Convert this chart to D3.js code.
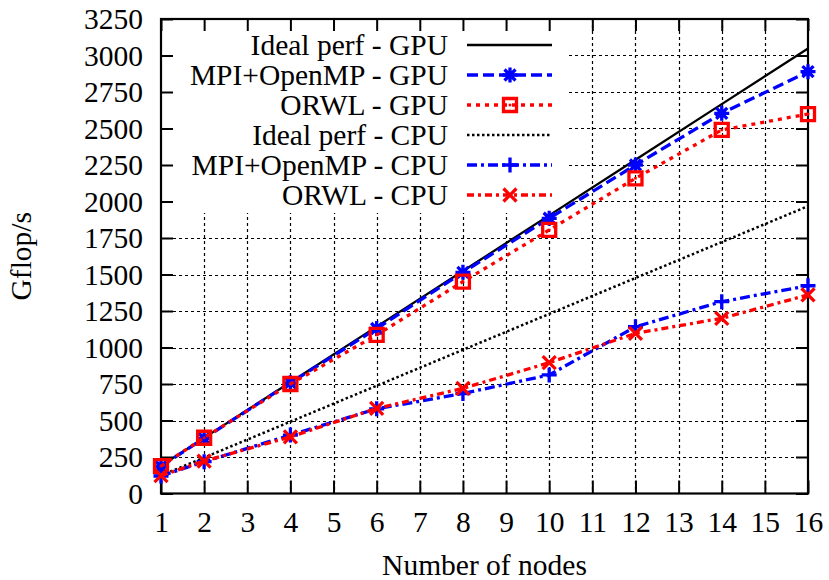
<!DOCTYPE html>
<html>
<head>
<meta charset="utf-8">
<script src="https://cdn.jsdelivr.net/npm/d3@7"></script>
<style>
  body { margin: 0; background: #fff; }
  svg text { font-family: "Liberation Serif", "DejaVu Serif", serif; font-size: 29.5px; fill: #000; }
</style>
</head>
<body>
<div id="chart"></div>
<script>
var width = 829;
var height = 580;
var fontFamily = "'Liberation Serif', 'DejaVu Serif', serif";

// data
var nodes = [1, 2, 4, 6, 8, 10, 12, 14, 16];
var idealGpu = [190, 381, 762, 1143, 1524, 1905, 2286, 2667, 3048];
var mpiGpu = [185, 378, 758, 1130, 1515, 1885, 2250, 2604, 2889];
var orwlGpu = [188, 382, 750, 1086, 1451, 1805, 2159, 2490, 2599];
var idealCpu = [123, 246, 492, 738, 984, 1230, 1476, 1722, 1968];
var mpiCpu = [120, 218, 400, 580, 685, 812, 1142, 1314, 1423];
var orwlCpu = [122, 222, 388, 583, 720, 896, 1097, 1200, 1360];

var xTicks = [1, 2, 3, 4, 5, 6, 7, 8, 9, 10, 11, 12, 13, 14, 15, 16];
var yTicks = [0, 250, 500, 750, 1000, 1250, 1500, 1750, 2000, 2250, 2500, 2750, 3000, 3250];

var seriesNames = ["Ideal perf - GPU", "MPI+OpenMP - GPU", "ORWL - GPU",
                   "Ideal perf - CPU", "MPI+OpenMP - CPU", "ORWL - CPU"];

var series = [
  { name: seriesNames[0], values: idealGpu, color: "#000", width: 2.3, dash: null, marker: null },
  { name: seriesNames[1], values: mpiGpu, color: "#0000ff", width: 3.3, dash: "11,5", marker: "star" },
  { name: seriesNames[2], values: orwlGpu, color: "#ff0000", width: 3.3, dash: "4,5", marker: "box" },
  { name: seriesNames[3], values: idealCpu, color: "#000", width: 2.5, dash: "2.5,2.5", marker: null },
  { name: seriesNames[4], values: mpiCpu, color: "#0000ff", width: 3.3, dash: "10,4,3,4", marker: "plus" },
  { name: seriesNames[5], values: orwlCpu, color: "#ff0000", width: 3.3, dash: "7,4,3,4", marker: "cross" }
];

var margin = { left: 161, right: 21, top: 19, bottom: 86.5 };
var plotW = width - margin.left - margin.right;
var plotH = height - margin.top - margin.bottom;

var x = d3.scaleLinear().domain([1, 16]).range([0, plotW]);
var y = d3.scaleLinear().domain([0, 3250]).range([plotH, 0]);

var svg = d3.select("#chart")
  .append("svg")
  .attr("width", width)
  .attr("height", height);

var g = svg.append("g")
  .attr("transform", "translate(" + margin.left + "," + margin.top + ")");

// grid
var grid = g.append("g").attr("id", "grid")
  .attr("stroke", "#000")
  .attr("stroke-width", 1.2)
  .attr("stroke-dasharray", "3,3");
grid.selectAll("line.gx")
  .data(xTicks.slice(1, -1))
  .enter().append("line")
  .attr("class", "gx")
  .attr("x1", function(d){ return Math.round(x(d)) + 0.5; })
  .attr("x2", function(d){ return Math.round(x(d)) + 0.5; })
  .attr("y1", 0)
  .attr("y2", plotH);
grid.selectAll("line.gy")
  .data(yTicks.slice(1, -1))
  .enter().append("line")
  .attr("class", "gy")
  .attr("y1", function(d){ return Math.round(y(d)) + 0.5; })
  .attr("y2", function(d){ return Math.round(y(d)) + 0.5; })
  .attr("x1", 0)
  .attr("x2", plotW);

// opaque legend box hides the grid behind it
var legendW = 407;
var legendH = 193;
g.append("rect")
  .attr("x", 1)
  .attr("y", 1)
  .attr("width", legendW)
  .attr("height", legendH)
  .attr("fill", "#fff");

// axes (ticks drawn inward, gnuplot style)
var fmt = d3.format("d");
var axisLeft = d3.axisLeft(y).tickValues(yTicks).tickFormat(fmt).tickSizeInner(-12).tickSizeOuter(0).tickPadding(18);
var axisBottom = d3.axisBottom(x).tickValues(xTicks).tickFormat(fmt).tickSizeInner(-13).tickSizeOuter(0).tickPadding(18);
var axisRight = d3.axisRight(y).tickValues(yTicks).tickSizeInner(-12).tickSizeOuter(0).tickFormat("");
var axisTop = d3.axisTop(x).tickValues(xTicks).tickSizeInner(-12).tickSizeOuter(0).tickFormat("");

function styleAxis(sel){
  sel.select(".domain").remove();
  sel.attr("font-family", fontFamily).attr("font-size", 29.5);
  sel.selectAll(".tick line").attr("stroke", "#000").attr("stroke-width", 2);
  sel.selectAll(".tick text").attr("font-family", fontFamily);
}

g.append("g").call(axisLeft).call(styleAxis)
  .selectAll(".tick text").attr("dy", "0.33em");
g.append("g").attr("transform", "translate(0," + plotH + ")").call(axisBottom).call(styleAxis);
g.append("g").attr("transform", "translate(" + plotW + ",0)").call(axisRight).call(styleAxis);
g.append("g").call(axisTop).call(styleAxis);

g.append("rect")
  .attr("width", plotW)
  .attr("height", plotH)
  .attr("fill", "none")
  .attr("stroke", "#000")
  .attr("stroke-width", 2.2);

// markers
function markerPath(type){
  if (type === "star") return "M-7.5,0H7.5M0,-7.5V7.5M-5.5,-5.5L5.5,5.5M-5.5,5.5L5.5,-5.5";
  if (type === "plus") return "M-7.5,0H7.5M0,-7.5V7.5";
  if (type === "cross") return "M-6.5,-6.5L6.5,6.5M-6.5,6.5L6.5,-6.5";
  if (type === "box") return "M-6.5,-6.5H6.5V6.5H-6.5Z";
  return "";
}

function drawMarker(sel, s){
  sel.append("path")
    .attr("d", markerPath(s.marker))
    .attr("fill", "none")
    .attr("stroke", s.color)
    .attr("stroke-width", 3.3);
  if (s.marker === "box") {
    sel.append("rect")
      .attr("x", -1.3).attr("y", -1.3)
      .attr("width", 2.6).attr("height", 2.6)
      .attr("fill", s.color);
  }
}

var line = d3.line()
  .x(function(d){ return x(d[0]); })
  .y(function(d){ return y(d[1]); });

var plots = g.append("g").attr("id", "series");
series.forEach(function(s){
  var pts = nodes.map(function(n, i){ return [n, s.values[i]]; });
  plots.append("path")
    .datum(pts)
    .attr("d", line)
    .attr("fill", "none")
    .attr("stroke", s.color)
    .attr("stroke-width", s.width)
    .attr("stroke-dasharray", s.dash);
  if (s.marker) {
    plots.append("g")
      .selectAll("g")
      .data(pts)
      .enter().append("g")
      .attr("transform", function(d){ return "translate(" + x(d[0]) + "," + y(d[1]) + ")"; })
      .each(function(){ drawMarker(d3.select(this), s); });
  }
});

// legend
var legend = g.append("g").attr("id", "legend");
var rows = legend.selectAll("g")
  .data(series)
  .enter().append("g")
  .attr("transform", function(d, i){ return "translate(0," + (26 + i * 30) + ")"; });

rows.append("text")
  .attr("x", 287)
  .attr("dy", "0.33em")
  .attr("text-anchor", "end")
  .attr("font-family", fontFamily)
  .text(function(d){ return d.name; });

rows.append("line")
  .attr("x1", 306)
  .attr("x2", 391)
  .attr("stroke", function(d){ return d.color; })
  .attr("stroke-width", function(d){ return d.width; })
  .attr("stroke-dasharray", function(d){ return d.dash; });

rows.each(function(d){
  if (d.marker) {
    var m = d3.select(this).append("g").attr("transform", "translate(349,0)");
    drawMarker(m, d);
  }
});

// axis titles
svg.append("text")
  .attr("x", margin.left + plotW / 2)
  .attr("y", 575)
  .attr("text-anchor", "middle")
  .attr("font-family", fontFamily)
  .text("Number of nodes");

svg.append("text")
  .attr("transform", "translate(31," + (margin.top + plotH / 2) + ") rotate(-90)")
  .attr("text-anchor", "middle")
  .attr("font-family", fontFamily)
  .text("Gflop/s");
</script>
</body>
</html>
